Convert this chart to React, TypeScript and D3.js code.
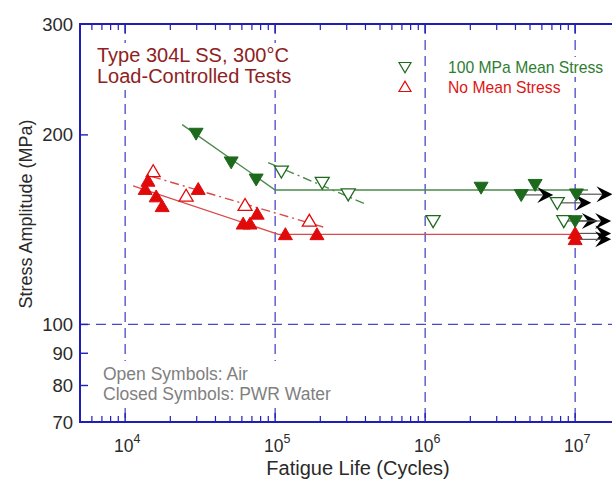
import React from "react";
import * as d3 from "d3";

// ---- data ----
const greenWaterX = [29700, 50900, 74700, 2.36e6, 4.37e6, 5.41e6, 1.02e7, 1.0e7];
const greenWaterY = [201, 181, 170, 165, 160.6, 166.7, 161, 146];
const greenAirX = [1.1e5, 2.06e5, 3.07e5, 1.13e6, 7.6e6, 8.4e6];
const greenAirY = [175, 168, 161, 146, 156, 146];
const redWaterX = [14200, 13600, 16100, 17650, 30700, 61200, 68000, 75900, 1.17e5, 1.9e5, 1.0e7, 1.0e7];
const redWaterY = [169, 164, 159.6, 154, 164, 144.5, 144.5, 149.8, 139, 139, 139.5, 136.5];
const redAirX = [15380, 25500, 63000, 1.69e5];
const redAirY = [175, 160, 154.7, 146];

const greenWaterFitX = [24000, 1.0e5, 1.22e7];
const greenWaterFitY = [207.7, 163.5, 163.5];
const greenAirFitX = [89800, 3.98e5];
const greenAirFitY = [180.7, 155.4];
const redWaterFitX = [11300, 1.05e5, 1.0e7];
const redWaterFitY = [166, 139, 139];
const redAirFitX = [15100, 2.09e5];
const redAirFitY = [171.7, 142.8];

const runoutX = [4.37e6, 1.02e7, 7.6e6, 8.4e6, 1.0e7, 1.0e7, 1.0e7];
const runoutY = [160.6, 161, 156, 146, 146, 139.5, 136.5];
const runoutLen = [32, 36, 34, 34, 36, 36, 36];

const yTicks = [70, 80, 90, 100, 200, 300];
const yGrid = [100];
const xDecades = [4, 5, 6, 7];

const W = 612, H = 479;
const GREEN = "#1d6a1d";
const GREEN_LINE = "#4b8a4b";
const RED = "#e10a0a";
const RED_LINE = "#d94a4a";
const AXIS = "#1f1fb8";
const GRID = "#4848c8";
const FONT = "Arial, 'Liberation Sans', Helvetica, sans-serif";

export default function App() {
  const x = d3.scaleLog().domain([5000, 1e8]).range([80, 80 + Math.log10(1e8 / 5000) * 150]);
  const y = d3.scaleLog().domain([70, 300]).range([422, 24]);
  const left = 80, top = 24, bottom = 422;

  const line = d3.line<[number, number]>().x(d => x(d[0])).y(d => y(d[1]));
  const pts = (xs: number[], ys: number[]) => xs.map((v, i) => [v, ys[i]] as [number, number]);

  const tri = (cx: number, cy: number, down: boolean, s = 7) =>
    down
      ? `M${cx - s},${cy - s * 0.75} L${cx + s},${cy - s * 0.75} L${cx},${cy + s * 0.95} Z`
      : `M${cx - s},${cy + s * 0.75} L${cx + s},${cy + s * 0.75} L${cx},${cy - s * 0.95} Z`;

  const minor: number[] = [];
  for (let e = 3; e < 8; e++) for (let m = 2; m <= 9; m++) {
    const v = m * Math.pow(10, e);
    if (v > 5000 && v < 1e8) minor.push(v);
  }

  return (
    <svg width={W} height={H} style={{ position: "absolute", left: 0, top: 0, background: "#fff" }}
      fontFamily={FONT}>
      <rect x={0} y={0} width={W} height={H} fill="#fff" />
      {/* grid */}
      {xDecades.map(e => (
        <line key={"vg" + e} x1={x(Math.pow(10, e))} x2={x(Math.pow(10, e))} y1={top} y2={bottom}
          stroke={GRID} strokeWidth={1.3} strokeDasharray="10,6" />
      ))}
      {yGrid.map(v => (
        <line key={"hg" + v} x1={left} x2={W} y1={y(v)} y2={y(v)} stroke={GRID} strokeWidth={1.3} strokeDasharray="10,6" />
      ))}
      {/* minor ticks */}
      {minor.map(v => (
        <g key={"mt" + v}>
          <line x1={x(v)} x2={x(v)} y1={top} y2={top + 6} stroke={AXIS} strokeWidth={1.2} />
          <line x1={x(v)} x2={x(v)} y1={bottom} y2={bottom - 6} stroke={AXIS} strokeWidth={1.2} />
        </g>
      ))}
      {xDecades.map(e => (
        <g key={"Mt" + e}>
          <line x1={x(Math.pow(10, e))} x2={x(Math.pow(10, e))} y1={top} y2={top + 9} stroke={AXIS} strokeWidth={1.4} />
          <line x1={x(Math.pow(10, e))} x2={x(Math.pow(10, e))} y1={bottom} y2={bottom - 9} stroke={AXIS} strokeWidth={1.4} />
        </g>
      ))}
      {yTicks.map(v => (
        <line key={"yt" + v} x1={left} x2={left + 8} y1={y(v)} y2={y(v)} stroke={AXIS} strokeWidth={1.4} />
      ))}
      {/* axes */}
      <line x1={left} x2={W} y1={top} y2={top} stroke={AXIS} strokeWidth={2} />
      <line x1={left} x2={W} y1={bottom} y2={bottom} stroke={AXIS} strokeWidth={2} />
      <line x1={left} x2={left} y1={top - 1} y2={bottom + 1} stroke={AXIS} strokeWidth={2} />

      {/* tick labels */}
      {yTicks.map(v => (
        <text key={"yl" + v} x={73} y={y(v) + 6.5} textAnchor="end" fontSize={18.5} fill="#2a2a2a">{v}</text>
      ))}
      {xDecades.map(e => (
        <text key={"xl" + e} x={x(Math.pow(10, e)) + 2} y={452} textAnchor="middle" fontSize={17.5} fill="#2a2a2a">
          10<tspan dy={-9} fontSize={12.5}>{e}</tspan>
        </text>
      ))}
      <text x={358} y={475} textAnchor="middle" fontSize={20} fill="#2a2a2a">Fatigue Life (Cycles)</text>
      <text transform={`translate(32,214) rotate(-90)`} textAnchor="middle" fontSize={18} fill="#2a2a2a">Stress Amplitude (MPa)</text>

      {/* text boxes (white backgrounds hiding grid) */}
      <rect x={94} y={43} width={200} height={47} fill="#fff" />
      <rect x={444} y={57} width={162} height={20} fill="#fff" />
      <rect x={100} y={361} width={240} height={44} fill="#fff" />

      {/* fit lines */}
      <path d={line(pts(greenWaterFitX, greenWaterFitY)) || ""} fill="none" stroke={GREEN_LINE} strokeWidth={1.4} />
      <path d={line(pts(greenAirFitX, greenAirFitY)) || ""} fill="none" stroke={GREEN_LINE} strokeWidth={1.4} strokeDasharray="9,4,2,4" />
      <path d={line(pts(redWaterFitX, redWaterFitY)) || ""} fill="none" stroke={RED_LINE} strokeWidth={1.3} />
      <path d={line(pts(redAirFitX, redAirFitY)) || ""} fill="none" stroke={RED_LINE} strokeWidth={1.4} strokeDasharray="9,4,2,4" />

      {/* runout arrows */}
      {runoutX.map((v, i) => {
        const x0 = x(v), yy = y(runoutY[i]), tip = x0 + runoutLen[i];
        return (
          <g key={"ro" + i}>
            <line x1={x0} x2={tip - 6} y1={yy} y2={yy} stroke="#555" strokeWidth={1.2} />
            <path d={`M${tip},${yy} L${tip - 16},${yy - 8} L${tip - 10},${yy} L${tip - 16},${yy + 8} Z`} fill="#000" />
          </g>
        );
      })}

      {/* markers */}
      {redAirX.map((v, i) => (
        <path key={"ra" + i} d={tri(x(v), y(redAirY[i]), false)} fill="#fff" stroke={RED} strokeWidth={1.3} />
      ))}
      {greenAirX.map((v, i) => (
        <path key={"ga" + i} d={tri(x(v), y(greenAirY[i]), true)} fill="#fff" stroke={GREEN} strokeWidth={1.3} />
      ))}
      {redWaterX.map((v, i) => (
        <path key={"rw" + i} d={tri(x(v), y(redWaterY[i]), false)} fill={RED} stroke={RED} strokeWidth={1} />
      ))}
      {greenWaterX.map((v, i) => (
        <path key={"gw" + i} d={tri(x(v), y(greenWaterY[i]), true)} fill={GREEN} stroke={GREEN} strokeWidth={1} />
      ))}

      {/* annotations */}
      <text x={97} y={62} fontSize={20} fill="#8e2222">Type 304L SS, 300°C</text>
      <text x={97} y={83} fontSize={20} fill="#8e2222">Load-Controlled Tests</text>

      <path d={tri(405, 67, true, 6)} fill="#fff" stroke={GREEN} strokeWidth={1.2} />
      <text x={448} y={73} fontSize={15.7} fill="#2e7d32">100 MPa Mean Stress</text>
      <path d={tri(405, 87, false, 6)} fill="#fff" stroke={RED} strokeWidth={1.2} />
      <text x={448} y={93} fontSize={15.7} fill="#e01515">No Mean Stress</text>

      <text x={103} y={380} fontSize={17.5} fill="#808080">Open Symbols: Air</text>
      <text x={103} y={400} fontSize={17.5} fill="#808080">Closed Symbols: PWR Water</text>
    </svg>
  );
}
